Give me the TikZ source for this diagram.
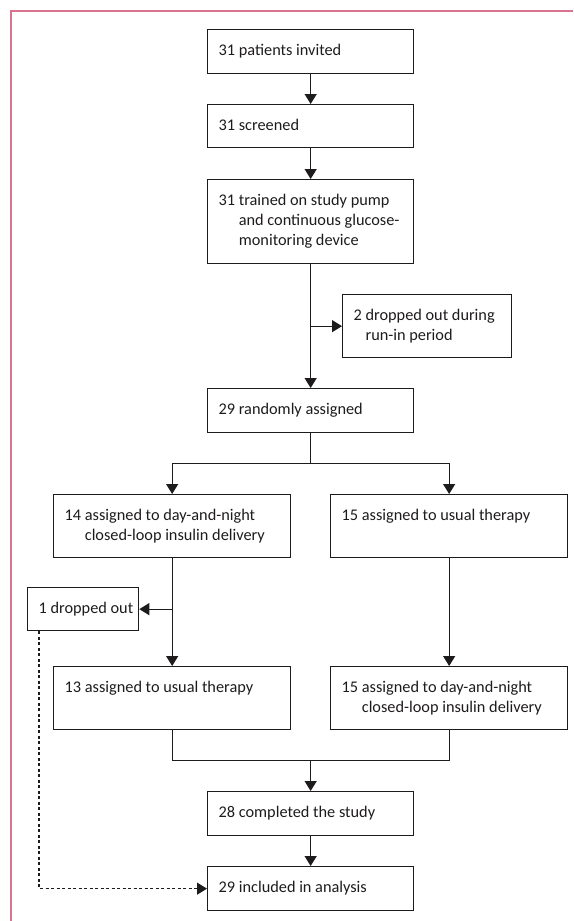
\documentclass[tikz,border=0pt]{standalone}
\usepackage{fontspec}
\setmainfont{Carlito}
\usetikzlibrary{arrows.meta}
\definecolor{framepink}{RGB}{216,116,144}
\definecolor{ink}{RGB}{30,27,28}
\newcommand\bxt[4]{\parbox[c][#2][t]{#1}{\vspace*{11.5pt}\hspace*{11pt}#3\ \begin{tabular}[t]{@{}l@{}}#4\end{tabular}}}
\begin{document}
\begin{tikzpicture}[x=1pt,y=-1pt,
  bx/.style={draw=ink, line width=1.3pt, inner sep=0pt, anchor=north west, text=ink, font=\fontsize{16.3}{20}\selectfont},
  conn/.style={draw=ink, line width=1.3pt},
  tip/.style={-{Triangle[length=10pt,width=12pt]}},
  arr/.style={conn, tip}]
\useasboundingbox (0,0) rectangle (573,921);
\draw[framepink, line width=1.8pt] (10.7,921) -- (10.7,10.7) -- (573,10.7);

\node[bx] (b1) at (207,29) {\bxt{206pt}{44pt}{31}{patients invited}};
\node[bx] (b2) at (207,104) {\bxt{206pt}{43pt}{31}{screened}};
\node[bx] (b3) at (207,179) {\bxt{206pt}{84pt}{31}{trained on study pump\\and continuous glucose-\\monitoring device}};
\node[bx] (bdrop) at (342,294) {\bxt{169pt}{63pt}{2}{dropped out during\\run-in period}};
\node[bx] (brand) at (207,388) {\bxt{206pt}{44pt}{29}{randomly assigned}};
\node[bx] (b14) at (53,494) {\bxt{237pt}{63pt}{14}{assigned to day-and-night\\closed-loop insulin delivery}};
\node[bx] (b15u) at (330,494) {\bxt{237pt}{63pt}{15}{assigned to usual therapy}};
\node[bx] (bone) at (27,587) {\bxt{111pt}{43pt}{1}{dropped out}};
\node[bx] (b13) at (53,666) {\bxt{237pt}{63pt}{13}{assigned to usual therapy}};
\node[bx] (b15d) at (330,666) {\bxt{237pt}{63pt}{15}{assigned to day-and-night\\closed-loop insulin delivery}};
\node[bx] (b28) at (207,791) {\bxt{206pt}{44pt}{28}{completed the study}};
\node[bx] (b29) at (207,866) {\bxt{206pt}{44pt}{29}{included in analysis}};

\draw[arr] (b1.south) -- (b2.north);
\draw[arr] (b2.south) -- (b3.north);
\draw[arr] (b3.south) -- (brand.north);
\draw[arr] (b3.south |- bdrop.west) -- (bdrop.west);
\path (brand.south) ++(0,30) coordinate (spl);
\draw[conn] (brand.south) -- (spl);
\draw[arr] (spl) -| (b14.north);
\draw[arr] (spl) -| (b15u.north);
\draw[arr] (b14.south) -- (b13.north);
\draw[arr] (b14.south |- bone.east) -- (bone.east);
\draw[arr] (b15u.south) -- (b15d.north);
\path (b13.south) ++(0,30) coordinate (mrg);
\draw[conn] (b13.south) -- (mrg) -| (b15d.south);
\draw[arr] (mrg -| b28.north) -- (b28.north);
\draw[arr] (b28.south) -- (b29.north);
\path (bone.south west) ++(12,0) coordinate (dt);
\draw[ink, line width=1.1pt, dash pattern=on 3pt off 2.5pt, tip] (dt) |- (b29.west);
\end{tikzpicture}
\end{document}
